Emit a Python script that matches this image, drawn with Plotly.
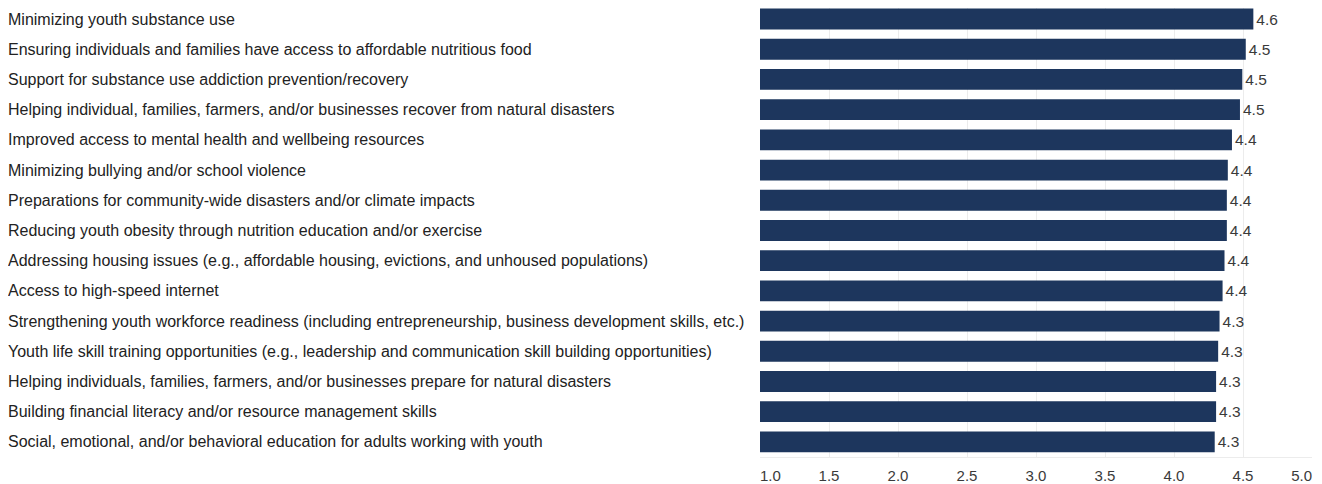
import plotly.graph_objects as go

categories = [
    "Minimizing youth substance use",
    "Ensuring individuals and families have access to affordable nutritious food",
    "Support for substance use addiction prevention/recovery",
    "Helping individual, families, farmers, and/or businesses recover from natural disasters",
    "Improved access to mental health and wellbeing resources",
    "Minimizing bullying and/or school violence",
    "Preparations for community-wide disasters and/or climate impacts",
    "Reducing youth obesity through nutrition education and/or exercise",
    "Addressing housing issues (e.g., affordable housing, evictions, and unhoused populations)",
    "Access to high-speed internet",
    "Strengthening youth workforce readiness (including entrepreneurship, business development skills, etc.)",
    "Youth life skill training opportunities (e.g., leadership and communication skill building opportunities)",
    "Helping individuals, families, farmers, and/or businesses prepare for natural disasters",
    "Building financial literacy and/or resource management skills",
    "Social, emotional, and/or behavioral education for adults working with youth",
]
values = [4.575, 4.52, 4.495, 4.478, 4.42, 4.39, 4.383, 4.383, 4.366, 4.352,
          4.33, 4.32, 4.305, 4.305, 4.295]
value_labels = ["4.6", "4.5", "4.5", "4.5", "4.4", "4.4", "4.4", "4.4", "4.4", "4.4",
                "4.3", "4.3", "4.3", "4.3", "4.3"]
grid_vals = [1.5, 2.0, 2.5, 3.0, 3.5, 4.0, 4.5]
tick_vals = [1.0, 1.5, 2.0, 2.5, 3.0, 3.5, 4.0, 4.5, 5.0]
tick_text = ["1.0", "1.5", "2.0", "2.5", "3.0", "3.5", "4.0", "4.5", "5.0"]

W, H = 1314, 476
L, R, T, B = 752, 10, 0, 25
FONT = "Liberation Sans, Arial, sans-serif"
LABEL_COLOR = "#222222"
TXT = "#3a3a3a"

n = len(categories)
plot_h = H - T - B
row_pitch = 30.34
y_top = (n - 0.5) - plot_h / row_pitch

fig = go.Figure()
fig.add_trace(go.Bar(
    x=values, y=categories, orientation="h",
    marker=dict(color="#1d365d", line=dict(width=0)),
    text=value_labels, textposition="outside",
    textfont=dict(family=FONT, size=15.5, color=TXT),
    cliponaxis=False, hoverinfo="skip",
))
# invisible trace on the overlay axis that carries the tick labels
fig.add_trace(go.Scatter(x=[1.0, 5.0], y=[categories[0], categories[0]], xaxis="x2",
                         mode="markers", marker=dict(opacity=0), hoverinfo="skip",
                         showlegend=False))

# tick label positions: first and last labels kept inside the plot edge
axis_span = 4.0
plot_w = W - L - R
edge_shift = 10.4 / plot_w * axis_span
label_pos = [v + edge_shift if i == 0 else (v - edge_shift if i == len(tick_vals) - 1 else v)
             for i, v in enumerate(tick_vals)]

fig.update_layout(
    width=W, height=H,
    margin=dict(l=L, r=R, t=T, b=B),
    paper_bgcolor="white", plot_bgcolor="white",
    showlegend=False,
    bargap=0.31,
    font=dict(family=FONT, size=16, color=TXT),
    xaxis=dict(range=[1.0, 5.0], tickmode="array", tickvals=grid_vals,
               showticklabels=False, showgrid=True, gridcolor="#ececec", gridwidth=1,
               zeroline=False, showline=True, linecolor="#ececec", linewidth=1,
               ticks=""),
    xaxis2=dict(range=[1.0, 5.0], overlaying="x", side="bottom", anchor="y",
                tickmode="array", tickvals=label_pos, ticktext=tick_text,
                showgrid=False, zeroline=False, showline=False, ticks="",
                ticklabelstandoff=8,
                tickfont=dict(family=FONT, size=15, color=TXT)),
    yaxis=dict(range=[n - 0.5, y_top], showticklabels=False, showgrid=False,
               zeroline=False, showline=False, ticks=""),
)

for cat in categories:
    fig.add_annotation(x=0, xref="paper", y=cat, yref="y", text=cat,
                       xanchor="left", xshift=-(L + 2), showarrow=False,
                       font=dict(family=FONT, size=16, color=LABEL_COLOR))

fig.write_html("out.html")
